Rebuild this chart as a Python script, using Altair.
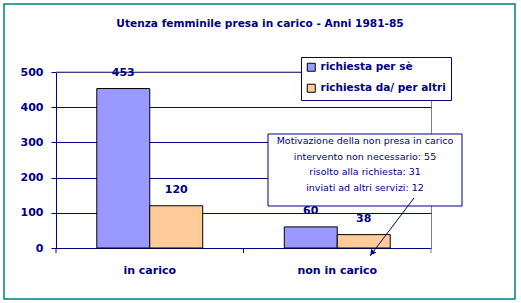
import altair as alt
import pandas as pd

categorie = ["in carico", "non in carico"]
serie = ["richiesta per sè", "richiesta da/ per altri"]
valori_per_se = [453, 60]
valori_altri = [120, 38]
motivi = ["intervento non necessario", "risolto alla richiesta", "inviati ad altri servizi"]
motivi_n = [55, 31, 12]
titolo = "Utenza femminile presa in carico - Anni 1981-85"
nota_titolo = "Motivazione della non presa in carico"
y_ticks = [0, 100, 200, 300, 400, 500]
tick_pos = [0, 1, 2]
colori = ["#9999FF", "#FFCC99"]

rows = []
for i, c in enumerate(categorie):
    rows.append({"cat": c, "serie": serie[0], "val": valori_per_se[i]})
    rows.append({"cat": c, "serie": serie[1], "val": valori_altri[i]})
df = pd.DataFrame(rows)

NAVY = "#000080"
GRAY = "#808080"
FONT = "DejaVu Sans"
W, H = 375, 176

xscale = alt.Scale(paddingInner=0.435, paddingOuter=0.2175)
x = alt.X("cat:N", sort=categorie, scale=xscale,
          axis=alt.Axis(title=None, labelAngle=0, ticks=False, domainColor=NAVY,
                        labelColor=NAVY, labelFont=FONT, labelFontSize=11,
                        labelFontWeight="bold", labelPadding=16, grid=False))
x_noaxis = alt.X("cat:N", sort=categorie, scale=xscale, axis=None)
xo = alt.XOffset("serie:N", sort=serie, scale=alt.Scale(paddingInner=0, paddingOuter=0))
y = alt.Y("val:Q", scale=alt.Scale(domain=[0, 500], nice=False),
          axis=alt.Axis(title=None, values=y_ticks, tickSize=5, tickColor=NAVY,
                        domainColor=NAVY, labelColor=NAVY, labelFont=FONT,
                        labelFontSize=11, labelFontWeight="bold", labelPadding=8,
                        gridColor=NAVY, gridWidth=1, gridOpacity=1))
color = alt.Color("serie:N", sort=serie,
                  scale=alt.Scale(domain=serie, range=colori),
                  legend=alt.Legend(title=None, orient="none", legendX=245, legendY=-15,
                                    fillColor="white", strokeColor=NAVY,
                                    padding=5, symbolType="square", symbolSize=64,
                                    symbolStrokeColor="black", symbolStrokeWidth=1,
                                    symbolOpacity=1,
                                    labelFont=FONT, labelFontSize=10.5, labelFontWeight="bold",
                                    labelColor=NAVY, labelOffset=4, rowPadding=8))

base = alt.Chart(df)
bars = base.mark_bar(stroke="black", strokeWidth=1, opacity=1).encode(
    x=x, xOffset=xo, y=y, color=color)
labels = base.mark_text(dy=-16, baseline="middle", font=FONT, fontSize=11,
                        fontWeight="bold", color=NAVY).encode(
    x=x_noaxis, xOffset=xo, y=y, text="val:Q")

ticks = alt.Chart(pd.DataFrame({"t": tick_pos})).mark_rule(strokeWidth=1).encode(
    x=alt.X("t:Q", scale=alt.Scale(domain=[0, 2]), axis=None),
    y=alt.value(H), y2=alt.value(H + 5),
    color=alt.condition("datum.t == 2", alt.value(GRAY), alt.value(NAVY)))

one = alt.Data(values=[{}])
top_border = alt.Chart(one).mark_rule(color=GRAY, strokeWidth=1).encode(
    x=alt.value(0), x2=alt.value(W), y=alt.value(0))
box = alt.Chart(one).mark_rect(fill="white", stroke=NAVY, strokeWidth=1).encode(
    x=alt.value(212), x2=alt.value(406), y=alt.value(62), y2=alt.value(134))
lines = [nota_titolo] + [f"{m}: {n}" for m, n in zip(motivi, motivi_n)]
note = alt.Chart(one).mark_text(align="center", baseline="top", lineHeight=15.5,
                                font=FONT, fontSize=9.5, color=NAVY).encode(
    x=alt.value(309), y=alt.value(64), text=alt.value(lines))
arrow = alt.Chart(one).mark_rule(color=NAVY, strokeWidth=1).encode(
    x=alt.value(358), y=alt.value(126), x2=alt.value(314), y2=alt.value(184))
head = alt.Chart(one).mark_point(shape="triangle-up", angle=217, filled=True, size=40,
                                 color=NAVY, opacity=1).encode(
    x=alt.value(316), y=alt.value(181))
title = alt.Chart(one).mark_text(align="center", baseline="middle", font=FONT,
                                 fontSize=10.6, fontWeight="bold", color=NAVY).encode(
    x=alt.value(204), y=alt.value(-48), text=alt.value(titolo))
frame = alt.Chart(one).mark_rect(fillOpacity=0, stroke="#008080", strokeWidth=1.5).encode(
    x=alt.value(-52), x2=alt.value(459), y=alt.value(-68), y2=alt.value(227))

chart = alt.layer(top_border, bars, labels, box, note, arrow, head, ticks, title, frame).resolve_scale(
    x="independent"
).properties(
    width=W, height=H, autosize="none",
    padding={"left": 56, "top": 72, "right": 90, "bottom": 55},
    background="white",
).configure_view(stroke=GRAY, strokeWidth=1)

chart.save("out.html", embed_options={"renderer": "svg", "actions": False})
